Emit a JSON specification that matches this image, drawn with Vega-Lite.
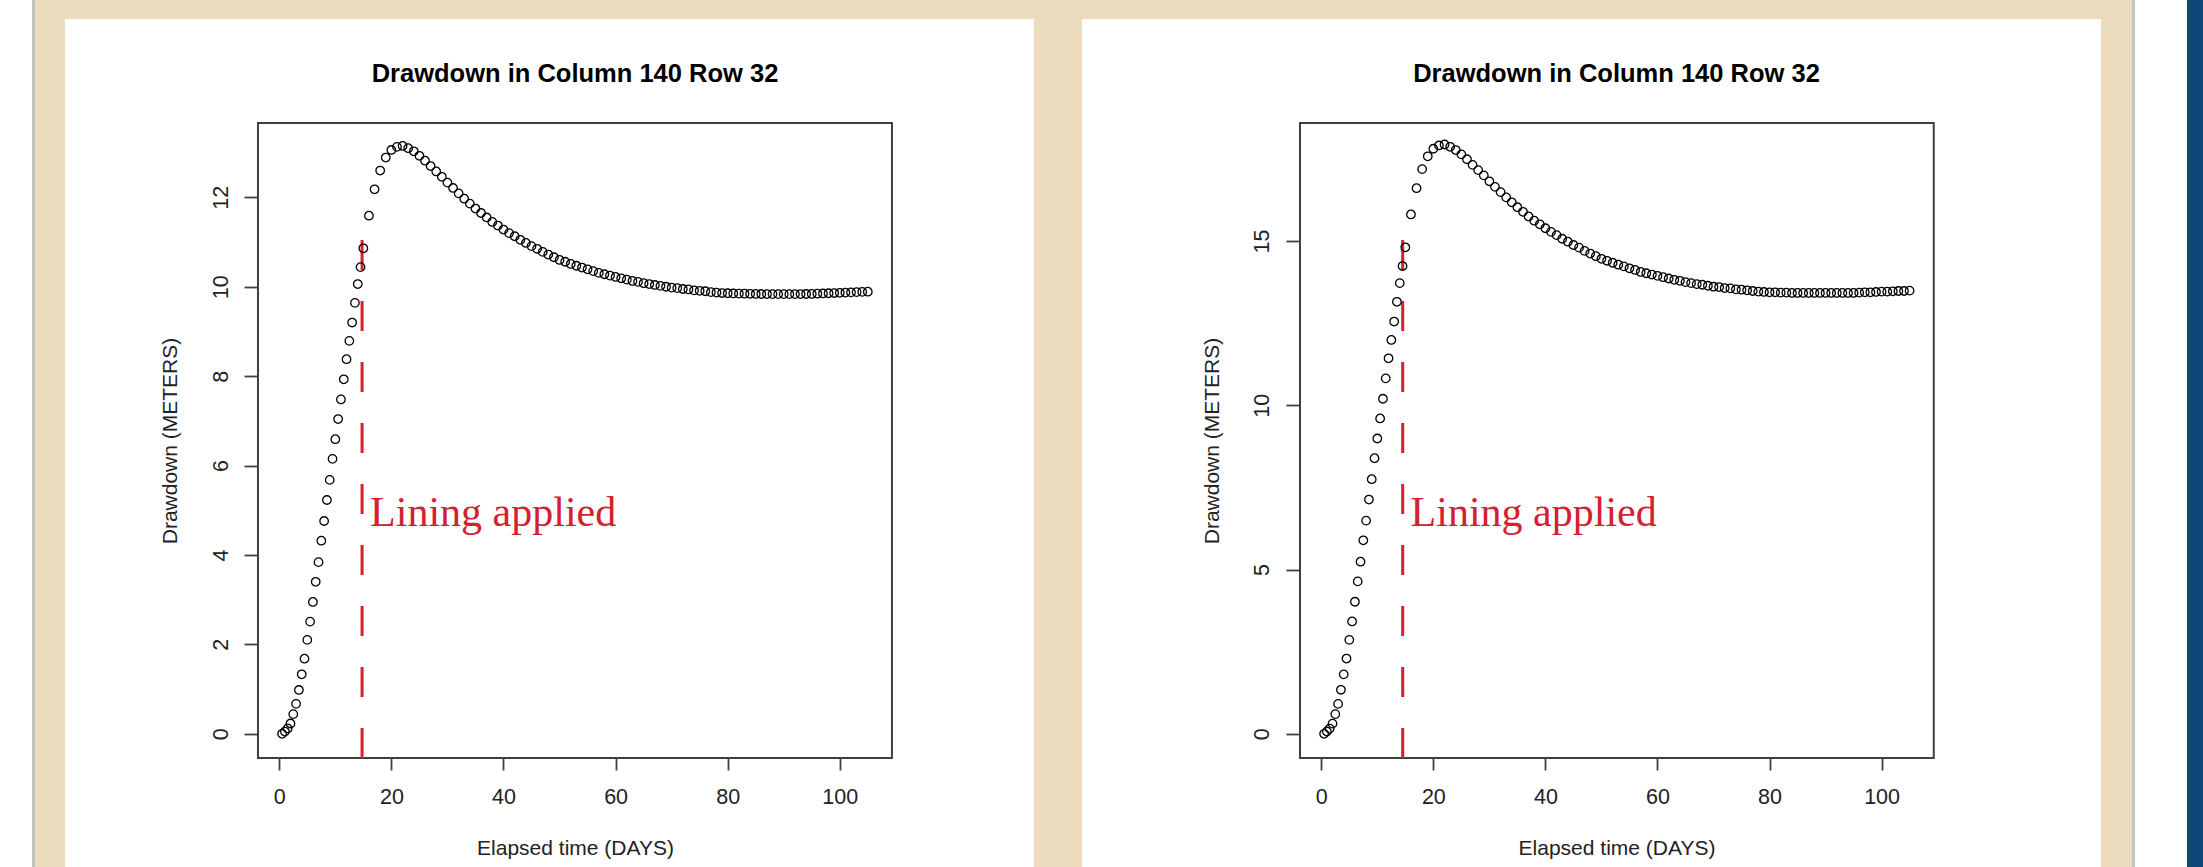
{
  "$schema": "https://vega.github.io/schema/vega-lite/v6.json",
  "background": "#ECDBBC",
  "padding": 0,
  "spacing": 0,
  "config": {"view": {"stroke": null}, "concat": {"spacing": 0}},
  "datasets": {
    "p1": [
      {"t":0.5,"d":0.00},{"t":1.0,"d":0.05},{"t":1.5,"d":0.12},{"t":2.0,"d":0.23},{"t":2.5,"d":0.44},{"t":3.0,"d":0.67},{"t":3.5,"d":0.98},{"t":4.0,"d":1.33},{"t":4.5,"d":1.68},{"t":5.0,"d":2.10},
      {"t":5.5,"d":2.51},{"t":6.0,"d":2.95},{"t":6.5,"d":3.40},{"t":7.0,"d":3.84},{"t":7.5,"d":4.32},{"t":8.0,"d":4.76},{"t":8.5,"d":5.23},{"t":9.0,"d":5.68},{"t":9.5,"d":6.15},{"t":10.0,"d":6.59},
      {"t":10.5,"d":7.04},{"t":11.0,"d":7.48},{"t":11.5,"d":7.93},{"t":12.0,"d":8.38},{"t":12.5,"d":8.79},{"t":13.0,"d":9.20},{"t":13.5,"d":9.64},{"t":14.0,"d":10.06},{"t":14.5,"d":10.44},{"t":15.0,"d":10.86},
      {"t":16,"d":11.59},{"t":17,"d":12.18},{"t":18,"d":12.60},{"t":19,"d":12.89},{"t":20,"d":13.06},{"t":21,"d":13.13},{"t":22,"d":13.15},{"t":23,"d":13.10},{"t":24,"d":13.03},{"t":25,"d":12.93},
      {"t":26,"d":12.82},{"t":27,"d":12.70},{"t":28,"d":12.58},{"t":29,"d":12.46},{"t":30,"d":12.33},{"t":31,"d":12.21},{"t":32,"d":12.09},{"t":33,"d":11.97},{"t":34,"d":11.86},{"t":35,"d":11.75},
      {"t":36,"d":11.65},{"t":37,"d":11.55},{"t":38,"d":11.45},{"t":39,"d":11.37},{"t":40,"d":11.28},{"t":41,"d":11.20},{"t":42,"d":11.13},{"t":43,"d":11.05},{"t":44,"d":10.98},{"t":45,"d":10.91},
      {"t":46,"d":10.85},{"t":47,"d":10.78},{"t":48,"d":10.72},{"t":49,"d":10.66},{"t":50,"d":10.60},{"t":51,"d":10.56},{"t":52,"d":10.51},{"t":53,"d":10.47},{"t":54,"d":10.43},{"t":55,"d":10.39},
      {"t":56,"d":10.35},{"t":57,"d":10.31},{"t":58,"d":10.28},{"t":59,"d":10.25},{"t":60,"d":10.22},{"t":61,"d":10.19},{"t":62,"d":10.16},{"t":63,"d":10.13},{"t":64,"d":10.11},{"t":65,"d":10.08},
      {"t":66,"d":10.06},{"t":67,"d":10.04},{"t":68,"d":10.02},{"t":69,"d":10.00},{"t":70,"d":9.98},{"t":71,"d":9.97},{"t":72,"d":9.95},{"t":73,"d":9.94},{"t":74,"d":9.92},{"t":75,"d":9.91},
      {"t":76,"d":9.90},{"t":77,"d":9.88},{"t":78,"d":9.87},{"t":79,"d":9.86},{"t":80,"d":9.855},{"t":81,"d":9.85},{"t":82,"d":9.847},{"t":83,"d":9.845},{"t":84,"d":9.842},{"t":85,"d":9.84},
      {"t":86,"d":9.838},{"t":87,"d":9.837},{"t":88,"d":9.836},{"t":89,"d":9.835},{"t":90,"d":9.835},{"t":91,"d":9.835},{"t":92,"d":9.836},{"t":93,"d":9.837},{"t":94,"d":9.838},{"t":95,"d":9.84},
      {"t":96,"d":9.845},{"t":97,"d":9.85},{"t":98,"d":9.855},{"t":99,"d":9.86},{"t":100,"d":9.865},{"t":101,"d":9.87},{"t":102,"d":9.875},{"t":103,"d":9.88},{"t":104,"d":9.885},{"t":105,"d":9.89}
    ],
    "p2": [
      {"t":0.5,"d":0.00},{"t":1.0,"d":0.07},{"t":1.5,"d":0.16},{"t":2.0,"d":0.31},{"t":2.5,"d":0.60},{"t":3.0,"d":0.91},{"t":3.5,"d":1.34},{"t":4.0,"d":1.81},{"t":4.5,"d":2.29},{"t":5.0,"d":2.86},
      {"t":5.5,"d":3.42},{"t":6.0,"d":4.02},{"t":6.5,"d":4.64},{"t":7.0,"d":5.24},{"t":7.5,"d":5.89},{"t":8.0,"d":6.49},{"t":8.5,"d":7.13},{"t":9.0,"d":7.75},{"t":9.5,"d":8.39},{"t":10.0,"d":8.99},
      {"t":10.5,"d":9.60},{"t":11.0,"d":10.20},{"t":11.5,"d":10.82},{"t":12.0,"d":11.43},{"t":12.5,"d":11.99},{"t":13.0,"d":12.55},{"t":13.5,"d":13.15},{"t":14.0,"d":13.72},{"t":14.5,"d":14.24},{"t":15.0,"d":14.81},
      {"t":16,"d":15.81},{"t":17,"d":16.61},{"t":18,"d":17.19},{"t":19,"d":17.58},{"t":20,"d":17.81},{"t":21,"d":17.91},{"t":22,"d":17.94},{"t":23,"d":17.87},{"t":24,"d":17.77},{"t":25,"d":17.64},
      {"t":26,"d":17.49},{"t":27,"d":17.32},{"t":28,"d":17.16},{"t":29,"d":17.00},{"t":30,"d":16.82},{"t":31,"d":16.65},{"t":32,"d":16.49},{"t":33,"d":16.33},{"t":34,"d":16.18},{"t":35,"d":16.03},
      {"t":36,"d":15.89},{"t":37,"d":15.75},{"t":38,"d":15.62},{"t":39,"d":15.51},{"t":40,"d":15.39},{"t":41,"d":15.28},{"t":42,"d":15.18},{"t":43,"d":15.07},{"t":44,"d":14.98},{"t":45,"d":14.88},
      {"t":46,"d":14.80},{"t":47,"d":14.70},{"t":48,"d":14.62},{"t":49,"d":14.54},{"t":50,"d":14.46},{"t":51,"d":14.40},{"t":52,"d":14.34},{"t":53,"d":14.28},{"t":54,"d":14.23},{"t":55,"d":14.17},
      {"t":56,"d":14.12},{"t":57,"d":14.06},{"t":58,"d":14.02},{"t":59,"d":13.98},{"t":60,"d":13.94},{"t":61,"d":13.90},{"t":62,"d":13.86},{"t":63,"d":13.82},{"t":64,"d":13.79},{"t":65,"d":13.75},
      {"t":66,"d":13.72},{"t":67,"d":13.69},{"t":68,"d":13.67},{"t":69,"d":13.64},{"t":70,"d":13.61},{"t":71,"d":13.60},{"t":72,"d":13.57},{"t":73,"d":13.56},{"t":74,"d":13.53},{"t":75,"d":13.52},
      {"t":76,"d":13.50},{"t":77,"d":13.48},{"t":78,"d":13.46},{"t":79,"d":13.45},{"t":80,"d":13.44},{"t":81,"d":13.44},{"t":82,"d":13.43},{"t":83,"d":13.43},{"t":84,"d":13.42},{"t":85,"d":13.42},
      {"t":86,"d":13.42},{"t":87,"d":13.42},{"t":88,"d":13.42},{"t":89,"d":13.42},{"t":90,"d":13.42},{"t":91,"d":13.42},{"t":92,"d":13.42},{"t":93,"d":13.42},{"t":94,"d":13.42},{"t":95,"d":13.42},
      {"t":96,"d":13.43},{"t":97,"d":13.44},{"t":98,"d":13.44},{"t":99,"d":13.45},{"t":100,"d":13.46},{"t":101,"d":13.46},{"t":102,"d":13.47},{"t":103,"d":13.48},{"t":104,"d":13.48},{"t":105,"d":13.49}
    ]
  },
  "hconcat": [
    {"width": 32, "height": 867, "view": {"fill": "#FFFFFF", "stroke": null}, "data": {"values": []}, "mark": "rect", "encoding": {}},
    {"width": 3, "height": 867, "view": {"fill": "#C4C4C4", "stroke": null}, "data": {"values": []}, "mark": "rect", "encoding": {}},
    {"width": 30, "height": 867, "view": {"fill": null, "stroke": null}, "data": {"values": []}, "mark": "rect", "encoding": {}},
    {
      "spacing": 0,
      "vconcat": [
        {"width": 969, "height": 19, "view": {"fill": null, "stroke": null}, "data": {"values": []}, "mark": "rect", "encoding": {}},
        {
          "width": 969, "height": 848,
          "view": {"fill": "#FFFFFF", "stroke": null},
          "title": {"text": "Drawdown in Column 140 Row 32", "font": "Liberation Sans", "fontSize": 25.5, "fontWeight": "bold", "color": "#000000", "anchor": "middle", "frame": "group", "baseline": "alphabetic", "offset": -88.8, "dx": 25.5},
          "layer": [
            {
              "data": {"values": [{}]},
              "mark": {"type": "rect", "fill": null, "stroke": "#404040", "strokeWidth": 2},
              "encoding": {
                "x": {"datum": -3.8, "type": "quantitative", "title": "Elapsed time (DAYS)",
                  "scale": {"domain": [-38.23, 134.65], "nice": false, "zero": false},
                  "axis": {"values": [0, 20, 40, 60, 80, 100], "offset": -109, "domain": false, "grid": false, "tickSize": 12, "tickColor": "#404040", "tickWidth": 1.8, "labelFont": "Liberation Sans", "labelFontSize": 21.5, "labelColor": "#222222", "labelBaseline": "middle", "labelPadding": 27, "labelFlush": false, "labelOverlap": false, "titleFont": "Liberation Sans", "titleFontSize": 21, "titleFontWeight": "normal", "titleColor": "#222222", "titleX": 510, "titleY": 90, "titleBaseline": "middle", "titleAlign": "center"}},
                "x2": {"datum": 109.31},
                "y": {"datum": -0.541, "type": "quantitative", "title": "Drawdown (METERS)",
                  "scale": {"domain": [-2.98, 15.99], "nice": false, "zero": false},
                  "axis": {"values": [0, 2, 4, 6, 8, 10, 12], "offset": -193, "domain": false, "grid": false, "tickSize": 14, "tickColor": "#404040", "tickWidth": 1.8, "labelFont": "Liberation Sans", "labelFontSize": 21.5, "labelColor": "#222222", "labelAngle": -90, "labelAlign": "center", "labelBaseline": "middle", "labelPadding": 23, "labelFlush": false, "labelOverlap": false, "titleFont": "Liberation Sans", "titleFontSize": 21, "titleFontWeight": "normal", "titleColor": "#222222", "titleX": -87.5, "titleY": 421.5, "titleAngle": -90, "titleBaseline": "middle", "titleAlign": "center"}},
                "y2": {"datum": 13.664}
              }
            },
            {
              "data": {"values": [{}]},
              "mark": {"type": "rule", "color": "#D42030", "strokeWidth": 3, "strokeDash": [30, 31]},
              "encoding": {
                "x": {"datum": 14.77, "type": "quantitative", "title": "Elapsed time (DAYS)"},
                "y": {"datum": -0.541, "type": "quantitative", "title": "Drawdown (METERS)"},
                "y2": {"datum": 11.12}
              }
            },
            {
              "data": {"name": "p1"},
              "mark": {"type": "point", "shape": "circle", "filled": false, "color": "#000000", "size": 72, "strokeWidth": 1.3, "opacity": 1},
              "encoding": {
                "x": {"field": "t", "type": "quantitative", "title": "Elapsed time (DAYS)"},
                "y": {"field": "d", "type": "quantitative", "title": "Drawdown (METERS)"}
              }
            },
            {
              "data": {"values": [{}]},
              "mark": {"type": "text", "text": "Lining applied", "font": "Liberation Serif", "fontSize": 42, "color": "#D42030", "align": "left", "baseline": "alphabetic"},
              "encoding": {
                "x": {"datum": 16.2, "type": "quantitative", "title": "Elapsed time (DAYS)"},
                "y": {"datum": 4.65, "type": "quantitative", "title": "Drawdown (METERS)"}
              }
            }
          ]
        }
      ]
    },
    {"width": 48, "height": 867, "view": {"fill": null, "stroke": null}, "data": {"values": []}, "mark": "rect", "encoding": {}},
    {
      "spacing": 0,
      "vconcat": [
        {"width": 1019, "height": 19, "view": {"fill": null, "stroke": null}, "data": {"values": []}, "mark": "rect", "encoding": {}},
        {
          "width": 1019, "height": 848,
          "view": {"fill": "#FFFFFF", "stroke": null},
          "title": {"text": "Drawdown in Column 140 Row 32", "font": "Liberation Sans", "fontSize": 25.5, "fontWeight": "bold", "color": "#000000", "anchor": "middle", "frame": "group", "baseline": "alphabetic", "offset": -88.8, "dx": 25},
          "layer": [
            {
              "data": {"values": [{}]},
              "mark": {"type": "rect", "fill": null, "stroke": "#404040", "strokeWidth": 2},
              "encoding": {
                "x": {"datum": -3.8, "type": "quantitative", "title": "Elapsed time (DAYS)",
                  "scale": {"domain": [-42.71, 139.16], "nice": false, "zero": false},
                  "axis": {"values": [0, 20, 40, 60, 80, 100], "offset": -109, "domain": false, "grid": false, "tickSize": 12, "tickColor": "#404040", "tickWidth": 1.8, "labelFont": "Liberation Sans", "labelFontSize": 21.5, "labelColor": "#222222", "labelBaseline": "middle", "labelPadding": 27, "labelFlush": false, "labelOverlap": false, "titleFont": "Liberation Sans", "titleFontSize": 21, "titleFontWeight": "normal", "titleColor": "#222222", "titleX": 534.5, "titleY": 90, "titleBaseline": "middle", "titleAlign": "center"}},
                "x2": {"datum": 109.31},
                "y": {"datum": -0.737, "type": "quantitative", "title": "Drawdown (METERS)",
                  "scale": {"domain": [-4.055, 21.76], "nice": false, "zero": false},
                  "axis": {"values": [0, 5, 10, 15], "offset": -218, "domain": false, "grid": false, "tickSize": 14, "tickColor": "#404040", "tickWidth": 1.8, "labelFont": "Liberation Sans", "labelFontSize": 21.5, "labelColor": "#222222", "labelAngle": -90, "labelAlign": "center", "labelBaseline": "middle", "labelPadding": 24, "labelFlush": false, "labelOverlap": false, "titleFont": "Liberation Sans", "titleFontSize": 21, "titleFontWeight": "normal", "titleColor": "#222222", "titleX": -88, "titleY": 421.5, "titleAngle": -90, "titleBaseline": "middle", "titleAlign": "center"}},
                "y2": {"datum": 18.593}
              }
            },
            {
              "data": {"values": [{}]},
              "mark": {"type": "rule", "color": "#D42030", "strokeWidth": 3, "strokeDash": [30, 31]},
              "encoding": {
                "x": {"datum": 14.53, "type": "quantitative", "title": "Elapsed time (DAYS)"},
                "y": {"datum": -0.737, "type": "quantitative", "title": "Drawdown (METERS)"},
                "y2": {"datum": 15.13}
              }
            },
            {
              "data": {"name": "p2"},
              "mark": {"type": "point", "shape": "circle", "filled": false, "color": "#000000", "size": 72, "strokeWidth": 1.3, "opacity": 1},
              "encoding": {
                "x": {"field": "t", "type": "quantitative", "title": "Elapsed time (DAYS)"},
                "y": {"field": "d", "type": "quantitative", "title": "Drawdown (METERS)"}
              }
            },
            {
              "data": {"values": [{}]},
              "mark": {"type": "text", "text": "Lining applied", "font": "Liberation Serif", "fontSize": 42, "color": "#D42030", "align": "left", "baseline": "alphabetic"},
              "encoding": {
                "x": {"datum": 15.94, "type": "quantitative", "title": "Elapsed time (DAYS)"},
                "y": {"datum": 6.33, "type": "quantitative", "title": "Drawdown (METERS)"}
              }
            }
          ]
        }
      ]
    },
    {"width": 31, "height": 867, "view": {"fill": null, "stroke": null}, "data": {"values": []}, "mark": "rect", "encoding": {}},
    {"width": 3, "height": 867, "view": {"fill": "#BFC2C8", "stroke": null}, "data": {"values": []}, "mark": "rect", "encoding": {}},
    {"width": 52, "height": 867, "view": {"fill": "#FFFFFF", "stroke": null}, "data": {"values": []}, "mark": "rect", "encoding": {}},
    {"width": 16, "height": 867, "view": {"fill": "#0E4677", "stroke": null}, "data": {"values": []}, "mark": "rect", "encoding": {}}
  ]
}
